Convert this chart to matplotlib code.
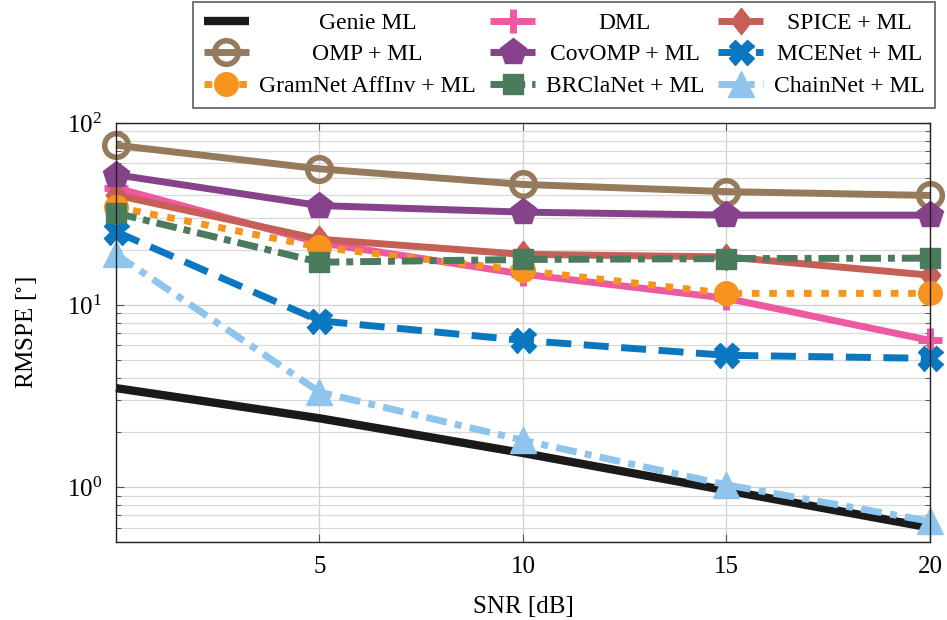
import matplotlib
matplotlib.use("Agg")
import matplotlib.pyplot as plt
import numpy as np
from matplotlib.path import Path
from matplotlib.transforms import Affine2D
from matplotlib.ticker import LogLocator, FixedLocator, NullFormatter

plt.rcParams["font.family"] = ["Liberation Serif", "DejaVu Serif"]
plt.rcParams["mathtext.fontset"] = "stix"

# ---- data ---------------------------------------------------------------
snr = [0, 5, 10, 15, 20]

genie_ml = [3.5, 2.39, 1.54, 0.96, 0.60]
dml = [44.0, 22.0, 14.8, 10.9, 6.4]
spice_ml = [40.2, 23.0, 19.0, 18.4, 14.6]
omp_ml = [75.5, 56.0, 46.0, 42.0, 40.0]
covomp_ml = [52.0, 35.2, 32.4, 31.2, 31.2]
mcenet_ml = [25.3, 8.2, 6.4, 5.3, 5.1]
gramnet_ml = [34.5, 20.8, 15.5, 11.6, 11.6]
braclanet_ml = [32.0, 17.2, 17.8, 18.0, 18.1]
chainnet_ml = [19.0, 3.33, 1.81, 1.03, 0.65]

labels = ["Genie ML", "DML", "SPICE + ML", "OMP + ML", "CovOMP + ML",
          "MCENet + ML", "GramNet AffInv + ML", "BRClaNet + ML",
          "ChainNet + ML"]

x_ticks = [5, 10, 15, 20]

# ---- styles -------------------------------------------------------------
tall_diamond = Path([(0, 1), (0.78, 0), (0, -1), (-0.78, 0), (0, 1)],
                    [Path.MOVETO, Path.LINETO, Path.LINETO, Path.LINETO,
                     Path.CLOSEPOLY])

LW = 5.0
styles = [
    dict(color="#1b1a1a", ls="-", marker=None, lw=6.0),
    dict(color="#ee5aa2", ls="-", marker="+", ms=17, mew=5),
    dict(color="#c65f56", ls="-", marker=tall_diamond, ms=19, mew=1),
    dict(color="#957b5c", ls="-", marker="o", ms=17, mew=4.0, mfc="none"),
    dict(color="#86428a", ls="-", marker="p", ms=20, mew=1),
    dict(color="#0a77c0", ls=(0, (3.6, 1.8)), marker="X", ms=18, mew=1),
    dict(color="#f7941e", ls=(0, (1.1, 1.4)), marker="o", ms=17, mew=1),
    dict(color="#4b7b5d", ls=(0, (3.0, 1.0, 1.0, 1.0)), marker="s", ms=15, mew=1),
    dict(color="#8fc5ec", ls=(0, (3.0, 1.2, 1.0, 1.2)), marker="^", ms=19, mew=1),
]

series = [genie_ml, dml, spice_ml, omp_ml, covomp_ml, mcenet_ml,
          gramnet_ml, braclanet_ml, chainnet_ml]

fig = plt.figure(figsize=(9.47, 6.2), dpi=100)
ax = fig.add_axes([0.1225, 0.1258, 0.8595, 0.6758])

handles = []
for y, st, lab in zip(series, styles, labels):
    kw = dict(color=st["color"], linestyle=st["ls"], lw=st.get("lw", LW),
              solid_capstyle="butt", dash_capstyle="butt", label=lab)
    if st["marker"] is not None:
        kw.update(marker=st["marker"], markersize=st["ms"],
                  markeredgewidth=st["mew"], markeredgecolor=st["color"],
                  markerfacecolor=st.get("mfc", st["color"]))
    h, = ax.plot(snr, y, clip_on=False, **kw)
    handles.append(h)

ax.set_yscale("log")
ax.set_xlim(0, 20)
ax.set_ylim(0.5, 100)
ax.xaxis.set_major_locator(FixedLocator(x_ticks))
ax.yaxis.set_major_locator(LogLocator(base=10, numticks=10))
ax.yaxis.set_minor_locator(LogLocator(base=10, subs=np.arange(2, 10), numticks=20))
ax.yaxis.set_minor_formatter(NullFormatter())

ax.grid(True, which="major", color="#cfcfcf", lw=0.9)
ax.grid(True, which="minor", axis="y", color="#d9d9d9", lw=0.9)
ax.set_axisbelow(True)

ax.tick_params(which="both", direction="in", top=True, right=True,
               labelsize=18, color="#555555")
ax.tick_params(which="major", length=6, width=0.8)
ax.tick_params(which="minor", length=3.5, width=0.7)
ax.tick_params(axis="x", pad=10)
ax.tick_params(axis="y", pad=10)
for s in ax.spines.values():
    s.set_linewidth(1.0)
    s.set_color("#222222")

ax.set_xlabel("SNR [dB]", fontsize=18, labelpad=13)
ax.set_ylabel(r"RMSPE [$^{\circ}$]", fontsize=18, labelpad=20)

# legend: three columns filled column by column
order = [0, 3, 6, 1, 4, 7, 2, 5, 8]
leg = fig.legend([handles[i] for i in order], [labels[i] for i in order],
                 ncol=3, loc="upper left", bbox_to_anchor=(0.204, 0.997),
                 borderaxespad=0.0,
                 fontsize=17, frameon=True, fancybox=False,
                 edgecolor="#333333", handlelength=1.9, handletextpad=0.45,
                 columnspacing=0.6, labelspacing=0.42, borderpad=0.45,
                 markerscale=1.0)
leg.get_frame().set_linewidth(1.2)

# center each label within its column
fig.canvas.draw()
renderer = fig.canvas.get_renderer()
texts = leg.get_texts()
for c in range(3):
    col = texts[3 * c:3 * c + 3]
    widths = [t.get_window_extent(renderer).width for t in col]
    wmax = max(widths)
    for t, w in zip(col, widths):
        dx = (wmax - w) / 2.0
        t.set_transform(t.get_transform() + Affine2D().translate(dx, 0))

fig.savefig("out.png", dpi=100)
